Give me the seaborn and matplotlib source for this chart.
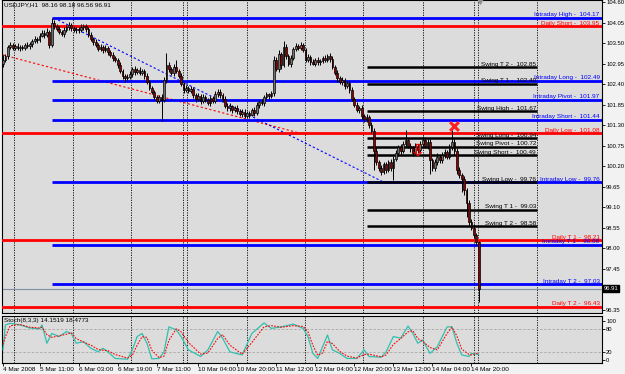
import numpy as np
import pandas as pd
import matplotlib
matplotlib.use("Agg")
import matplotlib.pyplot as plt
import seaborn as sns
from matplotlib.transforms import blended_transform_factory

# ---------------- data (USDJPY H1) ----------------
first_open = 102.95
closes = [
    103.05, 103.15, 103.40, 103.45, 103.38, 103.42, 103.36, 103.40, 103.38, 103.44,
    103.41, 103.47, 103.55, 103.62, 103.58, 103.70, 103.78, 103.72, 103.80, 103.45,
    104.05, 103.95, 103.88, 103.80, 103.75, 103.85, 103.92, 103.98, 103.90, 103.85,
    103.88, 103.84, 103.92, 103.95, 103.88, 103.72, 103.60, 103.52, 103.45, 103.35,
    103.40, 103.30, 103.36, 103.25, 103.18, 103.10, 103.05, 102.90, 102.75, 102.62,
    102.55, 102.60, 102.66, 102.80, 102.72, 102.78, 102.70, 102.75, 102.62, 102.45,
    102.30, 102.18, 102.05, 101.95, 102.05, 101.98, 102.50, 102.92, 102.80, 102.70,
    102.85, 102.75, 102.62, 102.40, 102.25, 102.30, 102.22, 102.28, 102.10, 102.00,
    102.08, 101.95, 102.05, 101.98, 101.90, 102.02, 101.95, 102.12, 102.20, 102.10,
    102.00, 101.82, 101.75, 101.80, 101.70, 101.76, 101.68, 101.60, 101.66, 101.55,
    101.62, 101.58, 101.70, 101.62, 101.85, 101.92, 101.88, 102.05, 102.12, 102.08,
    102.15, 103.05, 102.80, 103.20, 102.90, 103.40, 103.15, 102.95, 103.10, 103.35,
    103.42, 103.38, 103.45, 103.30, 103.05, 103.12, 103.00, 102.95, 103.05, 102.98,
    103.02, 103.10, 103.05, 103.15, 103.08, 102.85, 102.70, 102.55, 102.45, 102.50,
    102.35, 102.42, 102.25, 102.00, 101.85, 101.70, 101.75, 101.55, 101.45, 101.52,
    101.30, 101.15, 100.60, 100.30, 100.15, 100.05, 100.25, 100.10, 100.30, 100.15,
    100.40, 100.55, 100.70, 100.60, 100.78, 100.90, 100.75, 100.68, 100.55, 100.72,
    100.62, 100.80, 100.90, 100.75, 100.85, 100.35, 100.15, 100.30, 100.45, 100.35,
    100.50, 100.58, 100.45, 100.70, 100.85, 100.60, 100.10, 99.95, 99.85, 99.55,
    99.20, 98.70, 98.55, 98.35, 98.16, 96.91,
]
# wick lengths in pips beyond the candle body
upper_wick = [
    13, 6, 5, 8, 6, 5, 7, 4, 6, 5, 8, 5, 6, 7, 5, 6, 8, 7, 9, 6,
    12, 8, 6, 7, 5, 9, 6, 8, 5, 7, 6, 5, 8, 6, 5, 6, 7, 5, 8, 6,
    7, 5, 8, 6, 5, 7, 6, 5, 8, 6, 5, 7, 9, 6, 8, 5, 7, 6, 5, 8,
    6, 5, 7, 6, 5, 8, 10, 31, 7, 6, 9, 20, 6, 7, 5, 8, 6, 7, 5, 6,
    7, 5, 8, 6, 5, 7, 6, 10, 8, 6, 5, 7, 6, 8, 5, 6, 7, 5, 6, 8,
    5, 7, 6, 8, 6, 5, 7, 6, 8, 5, 7, 10, 8, 12, 7, 15, 8, 6, 7, 5,
    8, 6, 7, 5, 6, 8, 5, 7, 6, 8, 5, 6, 7, 5, 8, 6, 5, 7, 6, 8,
    5, 7, 6, 8, 5, 6, 7, 8, 6, 9, 5, 7, 8, 10, 6, 8, 5, 7, 6, 9,
    7, 8, 6, 10, 8, 27, 6, 8, 5, 9, 7, 8, 10, 6, 8, 7, 6, 8, 9, 6,
    8, 7, 6, 10, 32, 9, 8, 7, 6, 8, 7, 9, 8, 10, 6, 2,
]
lower_wick = [
    10, 6, 8, 5, 7, 6, 5, 8, 6, 7, 5, 6, 8, 5, 7, 6, 5, 8, 6, 9,
    6, 8, 5, 7, 6, 8, 5, 6, 7, 5, 8, 6, 5, 7, 8, 6, 5, 8, 6, 7,
    6, 8, 5, 7, 6, 8, 5, 7, 6, 8, 9, 5, 7, 6, 8, 5, 7, 6, 8, 6,
    7, 6, 8, 5, 7, 58, 6, 8, 7, 6, 8, 5, 7, 6, 8, 5, 7, 6, 8, 7,
    6, 8, 5, 7, 6, 8, 5, 7, 6, 8, 9, 5, 7, 6, 8, 5, 7, 6, 8, 7,
    6, 8, 5, 7, 6, 8, 5, 7, 6, 8, 5, 7, 6, 8, 9, 5, 7, 6, 8, 6,
    7, 6, 8, 5, 7, 6, 8, 5, 7, 6, 8, 5, 7, 6, 8, 5, 7, 9, 6, 8,
    7, 6, 8, 5, 7, 6, 8, 9, 7, 6, 8, 6, 50, 8, 7, 10, 6, 8, 7, 9,
    32, 6, 8, 7, 5, 8, 6, 9, 7, 6, 8, 5, 7, 6, 8, 35, 8, 7, 6, 8,
    6, 8, 7, 6, 8, 9, 10, 8, 35, 12, 36, 10, 7, 9, 8, 35,
]

# Level lines
intraday_names = ["Intraday High", "Intraday Long", "Intraday Pivot", "Intraday Short",
                  "Intraday Low", "Intraday T 1", "Intraday T 2"]
intraday_vals = [104.17, 102.49, 101.97, 101.44, 99.76, 98.08, 97.03]
daily_names = ["Daily Short", "Daily Low", "Daily T 1", "Daily T 2"]
daily_vals = [103.95, 101.08, 98.21, 96.43]
swing_names = ["Swing T 2", "Swing T 1", "Swing High", "Swing Long", "Swing Pivot",
               "Swing Short", "Swing Low", "Swing T 1", "Swing T 2"]
swing_vals = [102.85, 102.40, 101.67, 100.94, 100.72, 100.49, 99.76, 99.03, 98.58]
current_price = 96.91
intraday_start = 20
swing_span = [149, 219]

# trend lines (bar index, price)
red_trend_x = [0, 123]
red_trend_y = [103.18, 101.06]
blue_trend_x = [21, 156]
blue_trend_y = [104.17, 99.77]

# markers
cross_x, cross_y = [185], [101.27]
arrow_x, arrow_y = [170], [100.62]

# stochastic (bar index, value)
stoch_idx = [0, 1, 3, 7, 11, 15, 16, 18, 20, 23, 26, 28, 30, 33, 36, 39, 41, 43, 46, 51,
             53, 55, 57, 59, 61, 64, 66, 68, 71, 73, 76, 81, 84, 88, 90, 93, 98, 102, 107, 110,
             114, 119, 123, 125, 127, 129, 131, 133, 135, 138, 141, 145, 148, 150, 155, 157, 160, 163, 166, 168,
             170, 172, 175, 178, 182, 184, 186, 188, 191, 192, 195]
stoch_main = [26, 90, 94, 90, 82, 80, 90, 43, 68, 60, 73, 68, 43, 47, 30, 21, 30, 21, 4, 2,
              26, 60, 68, 43, 3, 4, 21, 85, 77, 60, 26, 9, 26, 73, 56, 21, 13, 68, 95, 81,
              85, 92, 81, 60, 17, 4, 34, 64, 26, 17, 4, 4, 26, 9, 7, 21, 60, 56, 87, 68,
              43, 51, 17, 34, 85, 85, 43, 13, 9, 17, 14.1519]
stoch_signal = [40, 60, 88, 91, 84, 82, 84, 65, 58, 62, 66, 70, 55, 46, 38, 27, 25, 24, 14, 5,
                12, 38, 60, 58, 25, 6, 10, 50, 80, 72, 45, 15, 18, 55, 65, 38, 15, 45, 85, 88,
                84, 88, 86, 72, 38, 12, 18, 48, 42, 22, 10, 5, 14, 15, 8, 13, 40, 55, 72, 75,
                55, 48, 32, 26, 68, 84, 62, 28, 14, 13, 18.4773]

# time axis
xtick_idx = [0, 15, 31, 47, 63, 80, 96, 112, 128, 144, 160, 176, 192]
xtick_labels = ["4 Mar 2008", "5 Mar 11:00", "6 Mar 03:00", "6 Mar 19:00", "7 Mar 11:00",
                "10 Mar 04:00", "10 Mar 20:00", "11 Mar 12:00", "12 Mar 04:00",
                "12 Mar 20:00", "13 Mar 12:00", "14 Mar 04:00", "14 Mar 20:00"]
grid_idx = [4.5, 28.7, 52.5, 73.8, 75.4, 100, 123.8, 147.5, 172, 193, 194.7, 219]
price_ticks = [104.60, 104.05, 103.50, 102.95, 102.40, 101.85, 101.30, 100.75, 100.20,
               99.65, 99.10, 98.55, 98.00, 97.45, 96.35]
stoch_ticks = [100, 80, 20, 0]

# ---------------- build ----------------
n = len(closes)
idx = np.arange(n)
opens = np.array([first_open] + closes[:-1])
cl = np.array(closes)
highs = np.maximum(opens, cl) + np.array(upper_wick) / 100.0
lows = np.minimum(opens, cl) - np.array(lower_wick) / 100.0
df = pd.DataFrame({"i": idx, "open": opens, "close": cl, "high": highs, "low": lows})

sns.set_theme(style="white")
plt.rcParams["font.family"] = ["Liberation Sans", "DejaVu Sans"]

FIG_BG = "#f2f2f2"
AX_BG = "#dcdcdc"
BLUE = "#0000ff"
RED = "#ff0000"

fig = plt.figure(figsize=(6.25, 3.74), dpi=100)
fig.patch.set_facecolor(FIG_BG)
ax = fig.add_axes([2 / 625, 1 - 313 / 374, 600 / 625, 313 / 374])
ax2 = fig.add_axes([2 / 625, 1 - 363 / 374, 600 / 625, 47 / 374])
XLIM = (-0.4, 245.5)

for a in (ax, ax2):
    a.set_facecolor(AX_BG)
    a.set_xlim(*XLIM)
    for s in a.spines.values():
        s.set_color("black")
        s.set_linewidth(0.8)
    for g in grid_idx:
        a.axvline(g, color="black", lw=0.6, ls=(0, (1.5, 1.5)), zorder=1)

ax.set_ylim(96.26, 104.654)

# level lines
for v in daily_vals:
    ax.axhline(v, color=RED, lw=2.0, zorder=3)
for v in intraday_vals:
    ax.hlines(v, intraday_start, XLIM[1], color=BLUE, lw=2.0, zorder=3)
for v in swing_vals:
    ax.hlines(v, swing_span[0], swing_span[1], color="black", lw=1.8, zorder=4)
ax.axhline(current_price, color="#7f8fa6", lw=0.8, zorder=2)

# trend lines
sns.lineplot(x=red_trend_x, y=red_trend_y, ax=ax, color=RED, lw=0.8, linestyle=(0, (2, 2)), zorder=2)
sns.lineplot(x=blue_trend_x, y=blue_trend_y, ax=ax, color=BLUE, lw=0.8, linestyle=(0, (2, 2)), zorder=2)

# candles
ax.vlines(df["i"], df["low"], df["high"], color="black", lw=0.7, zorder=5)
up = df[df["close"] >= df["open"]]
dn = df[df["close"] < df["open"]]
ax.bar(up["i"], (up["close"] - up["open"]).clip(lower=0.01), bottom=up["open"], width=0.7,
       color="#707070", edgecolor="black", linewidth=0.5, zorder=6)
ax.bar(dn["i"], (dn["open"] - dn["close"]).clip(lower=0.01), bottom=dn["close"], width=0.7,
       color="#8b0000", edgecolor="black", linewidth=0.5, zorder=6)

# markers
ax.scatter(cross_x, cross_y, marker="x", s=40, color="#ff2020", linewidths=2.2, zorder=8)
for xa, ya in zip(arrow_x, arrow_y):
    ax.text(xa, ya, "⇩", color=RED, fontsize=12, ha="center", va="center",
            family=["DejaVu Sans"], fontweight="bold", zorder=8)

# labels
tr = blended_transform_factory(ax.transAxes, ax.transData)
FS = 4.6
for name, v in zip(intraday_names, intraday_vals):
    ax.text(0.996, v + 0.02, f"{name} -  {v:.2f}", transform=tr, ha="right", va="bottom",
            fontsize=FS, color=BLUE, zorder=9)
for name, v in zip(daily_names, daily_vals):
    ax.text(0.996, v + 0.02, f"{name} -  {v:.2f}", transform=tr, ha="right", va="bottom",
            fontsize=FS, color=RED, zorder=9)
for name, v in zip(swing_names, swing_vals):
    ax.text(0.890, v + 0.02, f"{name} -  {v:.2f}", transform=tr, ha="right", va="bottom",
            fontsize=FS, color="black", zorder=9)

ax.text(0.004, 0.992, f"USDJPY,H1  {opens[-1]:.2f} {highs[-1]:.2f} {lows[-1]:.2f} {closes[-1]:.2f}",
        transform=ax.transAxes, ha="left", va="top", fontsize=FS, color="black")
ax.scatter([195.6], [104.62], marker="v", s=14, color="#909090", zorder=9, clip_on=False)

# price axis
TFS = 4.2
ax.yaxis.tick_right()
ax.set_yticks(price_ticks)
ax.set_yticklabels([f"{t:.2f}" for t in price_ticks])
ax.tick_params(axis="y", labelsize=TFS, length=2, width=0.6, pad=1, colors="black", right=True)
ax.set_xticks([])
ax.text(1.003, current_price, f"{current_price:.2f}", transform=tr, ha="left", va="center",
        fontsize=TFS, color="white",
        bbox=dict(boxstyle="square,pad=0.15", fc="black", ec="black"))

# stochastic panel
ax2.set_ylim(-7.7, 112.8)
for lv in (20, 80):
    ax2.axhline(lv, color="#a8a8a8", lw=0.6, ls=(0, (3, 2)), zorder=1)
sns.lineplot(x=stoch_idx, y=stoch_main, ax=ax2, color="#30c0b0", lw=0.9, zorder=4)
sns.lineplot(x=stoch_idx, y=stoch_signal, ax=ax2, color=RED, lw=0.8, linestyle=(0, (1.5, 1.2)), zorder=5)
ax2.text(0.004, 0.95, f"Stoch(8,3,3) {stoch_main[-1]:.4f} {stoch_signal[-1]:.4f}",
         transform=ax2.transAxes, ha="left", va="top", fontsize=FS, color="black")
ax2.yaxis.tick_right()
ax2.set_yticks(stoch_ticks)
ax2.set_yticklabels([str(t) for t in stoch_ticks])
ax2.tick_params(axis="y", labelsize=TFS, length=2, width=0.6, pad=1, colors="black", right=True)
ax2.set_xticks(xtick_idx)
ax2.set_xticklabels(xtick_labels, ha="left")
ax2.tick_params(axis="x", labelsize=FS, length=2, width=0.6, pad=1, colors="black", bottom=True)
ax2.set_xlabel("")
ax2.set_ylabel("")
ax.set_xlabel("")
ax.set_ylabel("")

fig.savefig("out.png", dpi=100, facecolor=FIG_BG)
